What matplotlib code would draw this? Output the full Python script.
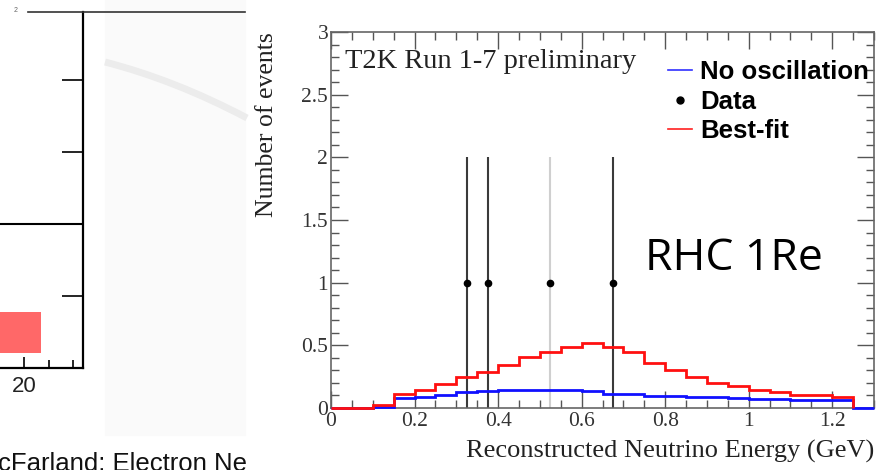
import matplotlib
matplotlib.use("Agg")
import matplotlib.pyplot as plt
import numpy as np
from matplotlib.lines import Line2D
from matplotlib.patches import Rectangle, PathPatch
from matplotlib.path import Path
from matplotlib.ticker import FuncFormatter, MultipleLocator

plt.rcParams['font.family'] = ['Liberation Serif', 'DejaVu Serif']

# dati (istogrammi a passo 0.05 GeV)
larghezza_bin = 0.05
best_fit = [0, 0, 0.025, 0.11, 0.147, 0.19, 0.245, 0.285, 0.34, 0.405, 0.45, 0.49,
            0.52, 0.49, 0.445, 0.357, 0.30, 0.245, 0.203, 0.173, 0.144, 0.13,
            0.107, 0.104, 0.09]
no_osc = [0, 0, 0.005, 0.08, 0.09, 0.107, 0.125, 0.135, 0.145, 0.147, 0.147, 0.14,
          0.133, 0.115, 0.11, 0.096, 0.093, 0.088, 0.085, 0.083, 0.072, 0.07,
          0.067, 0.064, 0.06, 0]
dati_x = [0.325, 0.375, 0.525, 0.675]
dati_y = [1, 1, 1, 1]
dati_err = [1, 1, 1, 1]
colori_err = ['#3a3a3a', '#3a3a3a', '#cfcfcf', '#3a3a3a']

# frammento del grafico a sinistra
frammento_bar_x = [17.5, 21.7]
frammento_bar_y = [0.21, 0.78]
frammento_linea_y = 2

W, H = 884, 470
fig = plt.figure(figsize=(W / 100, H / 100), dpi=100)


def px(x, y):
    # pixel -> frazione di figura
    return x / W, 1 - y / H


# pannello grigio (foto) tra i due grafici, molto tenue
fig.add_artist(Rectangle(px(105, 435), 140 / W, 435 / H, transform=fig.transFigure,
                         color='#fafafa', zorder=0))
verts = [px(105, 62), px(175, 80), px(247, 118)]
fig.add_artist(PathPatch(Path(verts, [Path.MOVETO, Path.CURVE3, Path.CURVE3]),
                         transform=fig.transFigure, fill=False, edgecolor='#ececec',
                         lw=5, zorder=0.5))
fig.add_artist(Line2D([28 / W, 245 / W], [1 - 12 / H, 1 - 12 / H],
                      transform=fig.transFigure, color='#333333', lw=1.2))
fig.text(16 / W, 1 - 10 / H, '2', fontsize=5, color='#666666', ha='center', va='center',
         family='Liberation Sans')

######### FRAMMENTO SINISTRO ###########
ax0 = fig.add_axes([0, (H - 368) / H, 83 / W, 356 / H])
b0 = frammento_bar_y[0]
ax0.bar(frammento_bar_x[0], frammento_bar_y[1] - b0, bottom=b0,
        width=frammento_bar_x[1] - frammento_bar_x[0], align='edge',
        color='#ff6868', lw=0)
ax0.axhline(frammento_linea_y, color='black', lw=1.5)
ax0.set_xlim(17.55, 26.02)
ax0.set_ylim(0, 4.94)
for s in ['left', 'top']:
    ax0.spines[s].set_visible(False)
for s in ['right', 'bottom']:
    ax0.spines[s].set_linewidth(1.6)
ax0.set_xticks([20])
ax0.set_xticks([22.5, 25], minor=True)
ax0.set_xticklabels(['20'], fontsize=16, family='Liberation Sans', color='#222222')
ax0.set_yticks([1, 2, 3, 4])
ax0.yaxis.tick_right()
ax0.tick_params(axis='y', direction='in', length=15, width=1.2, labelright=False)
ax0.tick_params(axis='x', which='major', direction='in', length=8, width=1.2, pad=6)
ax0.tick_params(axis='x', which='minor', direction='in', length=6, width=1.2)
ax0.set_facecolor('none')

fig.text(-2 / W, -1 / H, 'cFarland: Electron Ne', fontsize=18.5, family='Liberation Sans',
         color='#111111', ha='left', va='baseline')

######### GRAFICO PRINCIPALE ###########
ax = fig.add_axes([331 / W, (H - 408) / H, 543 / W, 376 / H])
bordi_bf = np.arange(len(best_fit) + 1) * larghezza_bin
bordi_no = np.arange(len(no_osc) + 1) * larghezza_bin

ax.stairs(no_osc, bordi_no, color='#1010ff', lw=2.0, zorder=3, clip_on=False)
ax.stairs(best_fit, bordi_bf, color='#ff1010', lw=2.0, zorder=3.1, clip_on=False)
for x, y, e, c in zip(dati_x, dati_y, dati_err, colori_err):
    ax.errorbar(x, y, yerr=e, fmt='none', ecolor=c, elinewidth=1.5, capsize=0)
ax.plot(dati_x, dati_y, 'o', color='black', ms=4.5, ls='none', zorder=4)

ax.set_xlim(0, 1.3)
ax.set_ylim(0, 3)
fmt = FuncFormatter(lambda v, p: '%g' % v)
ax.xaxis.set_major_locator(MultipleLocator(0.2))
ax.xaxis.set_minor_locator(MultipleLocator(0.05))
ax.yaxis.set_major_locator(MultipleLocator(0.5))
ax.yaxis.set_minor_locator(MultipleLocator(0.1))
ax.xaxis.set_major_formatter(fmt)
ax.yaxis.set_major_formatter(fmt)
ax.tick_params(which='both', direction='in', top=True, right=True, color='#555555',
               width=1.0, labelsize=15.5, labelcolor='#333333')
ax.tick_params(which='major', length=12)
ax.tick_params(which='minor', length=6)
ax.tick_params(axis='x', pad=3)
ax.tick_params(axis='y', pad=2)
for s in ax.spines.values():
    s.set_color('#666666')
    s.set_linewidth(1.2)

ax.set_ylabel('Number of events', fontsize=18.5, color='#222222', loc='top')
ax.yaxis.set_label_coords(-0.098, 1.0)
ax.set_xlabel('Reconstructed Neutrino Energy (GeV)', fontsize=19, color='#222222', loc='right')
ax.xaxis.set_label_coords(1.0, -0.085)

ax.text(14 / 543, 1 - 29 / 376, 'T2K Run 1-7 preliminary', transform=ax.transAxes,
        fontsize=20.5, color='#222222', ha='left', va='center')
ax.text(314 / 543, 1 - 227 / 376, 'RHC 1Re', transform=ax.transAxes,
        fontsize=32, family='Open Sans', color='black', ha='left', va='center')

# legenda
maniglie = [Line2D([], [], color='#3030ff', lw=1.2),
            Line2D([], [], color='black', marker='o', ls='none', ms=5),
            Line2D([], [], color='#ff2020', lw=1.2)]
ax.legend(maniglie, ['No oscillation', 'Data', 'Best-fit'], loc='upper left',
          bbox_to_anchor=px(668, 60), bbox_transform=fig.transFigure, frameon=False,
          borderpad=0, borderaxespad=0, handlelength=0.95, handletextpad=0.3,
          labelspacing=0.22, prop={'family': 'Liberation Sans', 'weight': 'bold', 'size': 18.5})

fig.savefig('out.png', dpi=100)
